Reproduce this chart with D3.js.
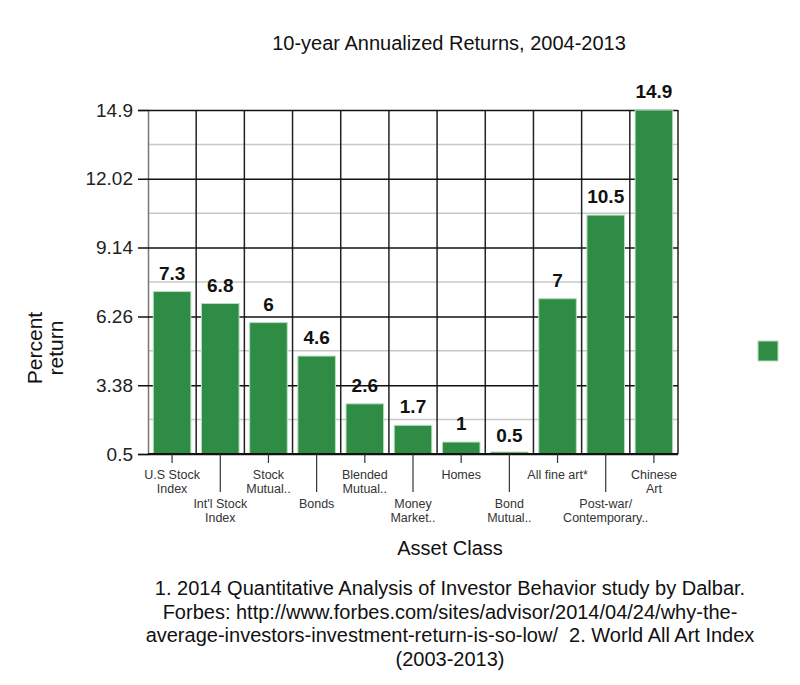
<!DOCTYPE html>
<html lang="en">
<head>
<meta charset="UTF-8">
<title>10-year Annualized Returns</title>
<script src="https://cdn.jsdelivr.net/npm/d3@7/dist/d3.min.js"></script>
<style>
  body { margin: 0; background: #fff; }
  svg { font-family: "Liberation Sans", Arial, sans-serif; }
  .note tspan { white-space: pre; }
</style>
</head>
<body>
<svg id="chart" width="800" height="685"></svg>
<script>
// data
const categories = [
  ["U.S Stock", "Index"], ["Int'l Stock", "Index"], ["Stock", "Mutual.."], ["Bonds"],
  ["Blended", "Mutual.."], ["Money", "Market.."], ["Homes"], ["Bond", "Mutual.."],
  ["All fine art*"], ["Post-war/", "Contemporary.."], ["Chinese", "Art"]
];
const returns = [7.3, 6.8, 6, 4.6, 2.6, 1.7, 1, 0.5, 7, 10.5, 14.9];
const yTicks = [0.5, 3.38, 6.26, 9.14, 12.02, 14.9];
const footnote = [
  "1. 2014 Quantitative Analysis of Investor Behavior study by Dalbar.",
  "Forbes: http://www.forbes.com/sites/advisor/2014/04/24/why-the-",
  "average-investors-investment-return-is-so-low/  2. World All Art Index",
  "(2003-2013)"
];

const svg = d3.select("#chart");
const plotL = 148, plotR = 678, plotT = 110, plotB = 454;
const green = "#2e8c45";

const x = d3.scaleBand().domain(d3.range(categories.length)).range([plotL, plotR]).paddingInner(0.22).paddingOuter(0.11);
const xb = d3.scaleBand().domain(d3.range(categories.length)).range([plotL, plotR]);
const y = d3.scaleLinear().domain([0.5, 14.9]).range([plotB, plotT]);

// minor grid
const minors = d3.range(yTicks.length - 1).map(i => (yTicks[i] + yTicks[i + 1]) / 2);
svg.append("g").selectAll("line").data(minors).join("line")
  .attr("x1", plotL).attr("x2", plotR)
  .attr("y1", d => y(d)).attr("y2", d => y(d))
  .attr("stroke", "#c8c8c8").attr("stroke-width", 1.5);

// vertical grid
svg.append("g").selectAll("line").data(d3.range(1, categories.length + 1)).join("line")
  .attr("x1", d => xb(d - 1) + xb.bandwidth()).attr("x2", d => xb(d - 1) + xb.bandwidth())
  .attr("y1", plotT).attr("y2", plotB)
  .attr("stroke", "#222").attr("stroke-width", 1.5);

// y axis
const yAxis = d3.axisLeft(y).tickValues(yTicks).tickSize(10).tickFormat(d => d);
const ya = svg.append("g").attr("transform", `translate(${plotL},0)`).call(yAxis);
ya.select(".domain").attr("stroke", "#777").attr("stroke-width", 1.5);
ya.selectAll(".tick line").attr("stroke", "#111").attr("stroke-width", 1.5)
  .attr("x2", plotR - plotL).attr("x1", -10);
ya.selectAll(".tick text").attr("font-size", 19).attr("fill", "#222").attr("x", -15)
  .attr("font-family", "Liberation Sans, Arial, sans-serif");

// bars (the 0.5 bar sits on the baseline, keep it visible as a sliver)
svg.append("g").selectAll("rect").data(returns).join("rect")
  .attr("x", (d, i) => x(i)).attr("width", x.bandwidth())
  .attr("y", d => Math.min(y(d), plotB - 2)).attr("height", d => Math.max(plotB - y(d), 2))
  .attr("fill", green).attr("stroke", "#b9dcbf").attr("stroke-width", 1);

// value labels
svg.append("g").selectAll("text").data(returns).join("text")
  .attr("x", (d, i) => x(i) + x.bandwidth() / 2).attr("y", d => y(d) - 12)
  .attr("text-anchor", "middle").attr("font-size", 19).attr("font-weight", "bold")
  .attr("fill", "#111").text(d => d);

// x axis line
svg.append("line").attr("x1", plotL).attr("x2", plotR).attr("y1", plotB).attr("y2", plotB)
  .attr("stroke", "#111").attr("stroke-width", 2);

// x ticks and labels (staggered)
const xg = svg.append("g").selectAll("g").data(categories).join("g")
  .attr("transform", (d, i) => `translate(${x(i) + x.bandwidth() / 2},${plotB})`);
xg.append("line").attr("y1", 0).attr("y2", (d, i) => i % 2 ? 38 : 9)
  .attr("stroke", "#333").attr("stroke-width", 1.2);
xg.append("text").attr("text-anchor", "middle").attr("font-size", 12.5).attr("fill", "#333")
  .each(function (d, i) {
    const t = d3.select(this);
    d.forEach((s, k) => t.append("tspan").attr("x", 0).attr("y", (i % 2 ? 54 : 25) + k * 14).text(s));
  });

// titles
svg.append("text").attr("x", 449).attr("y", 50).attr("text-anchor", "middle")
  .attr("font-size", 20).attr("fill", "#111").text("10-year Annualized Returns, 2004-2013");
svg.append("text").attr("x", 450).attr("y", 555).attr("text-anchor", "middle")
  .attr("font-size", 20).attr("fill", "#111").text("Asset Class");
svg.append("text").attr("text-anchor", "middle").attr("font-size", 21).attr("fill", "#111")
  .attr("transform", "translate(0,348) rotate(-90)")
  .selectAll("tspan").data(["Percent", "return"]).join("tspan")
  .attr("x", 0).attr("y", (d, i) => 42 + i * 21).text(d => d);

// footnote
svg.append("text").attr("class", "note").attr("text-anchor", "middle").attr("font-size", 20).attr("fill", "#111")
  .selectAll("tspan").data(footnote).join("tspan")
  .attr("x", 450).attr("y", (d, i) => 595 + i * 23.5).text(d => d);

// legend swatch
svg.append("rect").attr("x", 758).attr("y", 341).attr("width", 20).attr("height", 20)
  .attr("fill", green).attr("stroke", "#b9dcbf");
</script>
</body>
</html>
